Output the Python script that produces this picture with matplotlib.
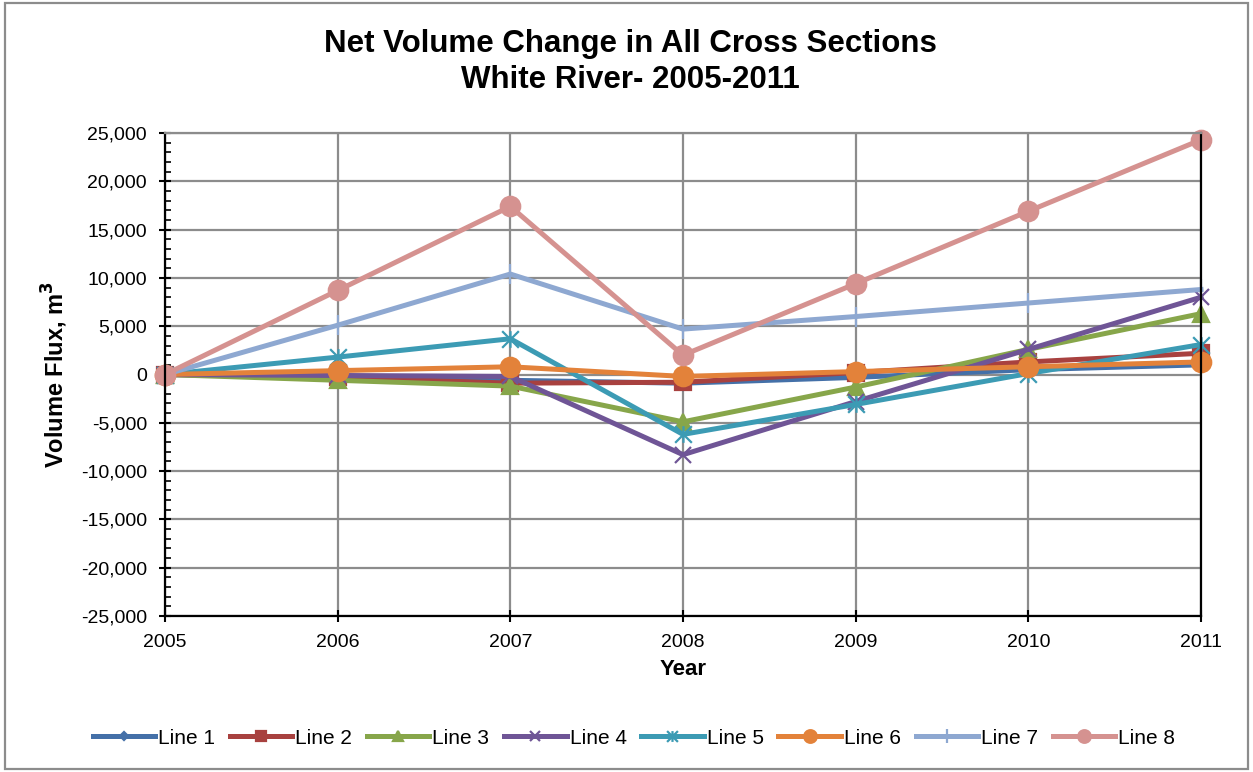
import matplotlib.pyplot as plt
from matplotlib.path import Path
from matplotlib.ticker import FuncFormatter, MultipleLocator

plt.rcParams['font.family'] = ['Liberation Sans', 'DejaVu Sans']

years = [2005, 2006, 2007, 2008, 2009, 2010, 2011]

line1 = [0, -200, -600, -900, -300, 500, 1000]
line2 = [0, -300, -900, -800, 200, 1300, 2200]
line3 = [0, -600, -1200, -4900, -1300, 2600, 6300]
line4 = [0, -100, -200, -8300, -2800, 2600, 8000]
line5 = [0, 1800, 3700, -6200, -3100, 100, 3100]
line6 = [0, 400, 800, -200, 300, 800, 1300]
line7 = [0, 5100, 10400, 4700, 6000, 7400, 8800]
line8 = [0, 8700, 17400, 2000, 9400, 16900, 24300]

series = [line1, line2, line3, line4, line5, line6, line7, line8]
names = ["Line 1", "Line 2", "Line 3", "Line 4", "Line 5", "Line 6", "Line 7", "Line 8"]
colors = ["#4470A8", "#A8413F", "#87A64A", "#6F5596", "#3C9BB4", "#E3823A", "#8EA8D1", "#D59290"]

# excel style star: an x with a vertical bar through it
star = Path([(-1, -1), (1, 1), (-1, 1), (1, -1), (0, -1), (0, 1)],
            [Path.MOVETO, Path.LINETO, Path.MOVETO, Path.LINETO, Path.MOVETO, Path.LINETO])
markers = ["D", "s", "^", "x", star, "o", "|", "o"]
msizes = [7, 11, 12, 12, 12, 14, 15, 14]

fig = plt.figure(figsize=(12.53, 7.72), dpi=100)
ax = fig.add_axes([165 / 1253, 1 - 616 / 772, (1201 - 165) / 1253, (616 - 133) / 772])

for vals, name, c, m, ms in zip(series, names, colors, markers, msizes):
    ax.plot(years, vals, color=c, lw=3.6, marker=m, markersize=ms,
            markeredgewidth=1.6, markeredgecolor=c, markerfacecolor=c,
            label=name, solid_joinstyle='round', clip_on=False)

ax.set_xlim(2005, 2011)
ax.set_ylim(-25000, 25000)
ax.yaxis.set_major_locator(MultipleLocator(5000))
ax.yaxis.set_minor_locator(MultipleLocator(1000))
ax.xaxis.set_major_locator(MultipleLocator(1))
ax.yaxis.set_major_formatter(FuncFormatter(lambda v, p: f"{int(v):,}"))
ax.xaxis.set_major_formatter(FuncFormatter(lambda v, p: f"{int(v)}"))

ax.grid(True, which='major', color='#8c8c8c', lw=1.6)
ax.set_axisbelow(True)
ax.tick_params(axis='both', which='major', direction='inout', length=8, width=1.5,
               labelsize=14, pad=9)
ax.tick_params(axis='y', which='minor', direction='in', length=4, width=1.2)
for s in ['left', 'bottom', 'right']:
    ax.spines[s].set_color('black')
    ax.spines[s].set_linewidth(1.6)
ax.spines['top'].set_color('#8c8c8c')
ax.spines['top'].set_linewidth(1.6)

ax.set_xlabel("Year", fontsize=16, fontweight='bold', labelpad=6)
ax.set_ylabel("Volume Flux, m$^\\mathbf{3}$", fontsize=17, fontweight='bold', labelpad=8)

fig.text(630 / 1253, 1 - 44 / 772, "Net Volume Change in All Cross Sections",
         ha='center', va='center', fontsize=22.5, fontweight='bold')
fig.text(630 / 1253, 1 - 80 / 772, "White River- 2005-2011",
         ha='center', va='center', fontsize=22.5, fontweight='bold')

fig.legend(loc='center', bbox_to_anchor=(634 / 1253, 1 - 738 / 772), ncol=8,
           frameon=False, fontsize=15, handlelength=3.0, handletextpad=0.15,
           columnspacing=0.7, markerscale=0.65)

border = plt.Rectangle((0.004, 0.004), 0.992, 0.992, transform=fig.transFigure,
                       fill=False, edgecolor='#8c8c8c', lw=1.6)
fig.patches.append(border)

fig.savefig("out.png", dpi=100)
